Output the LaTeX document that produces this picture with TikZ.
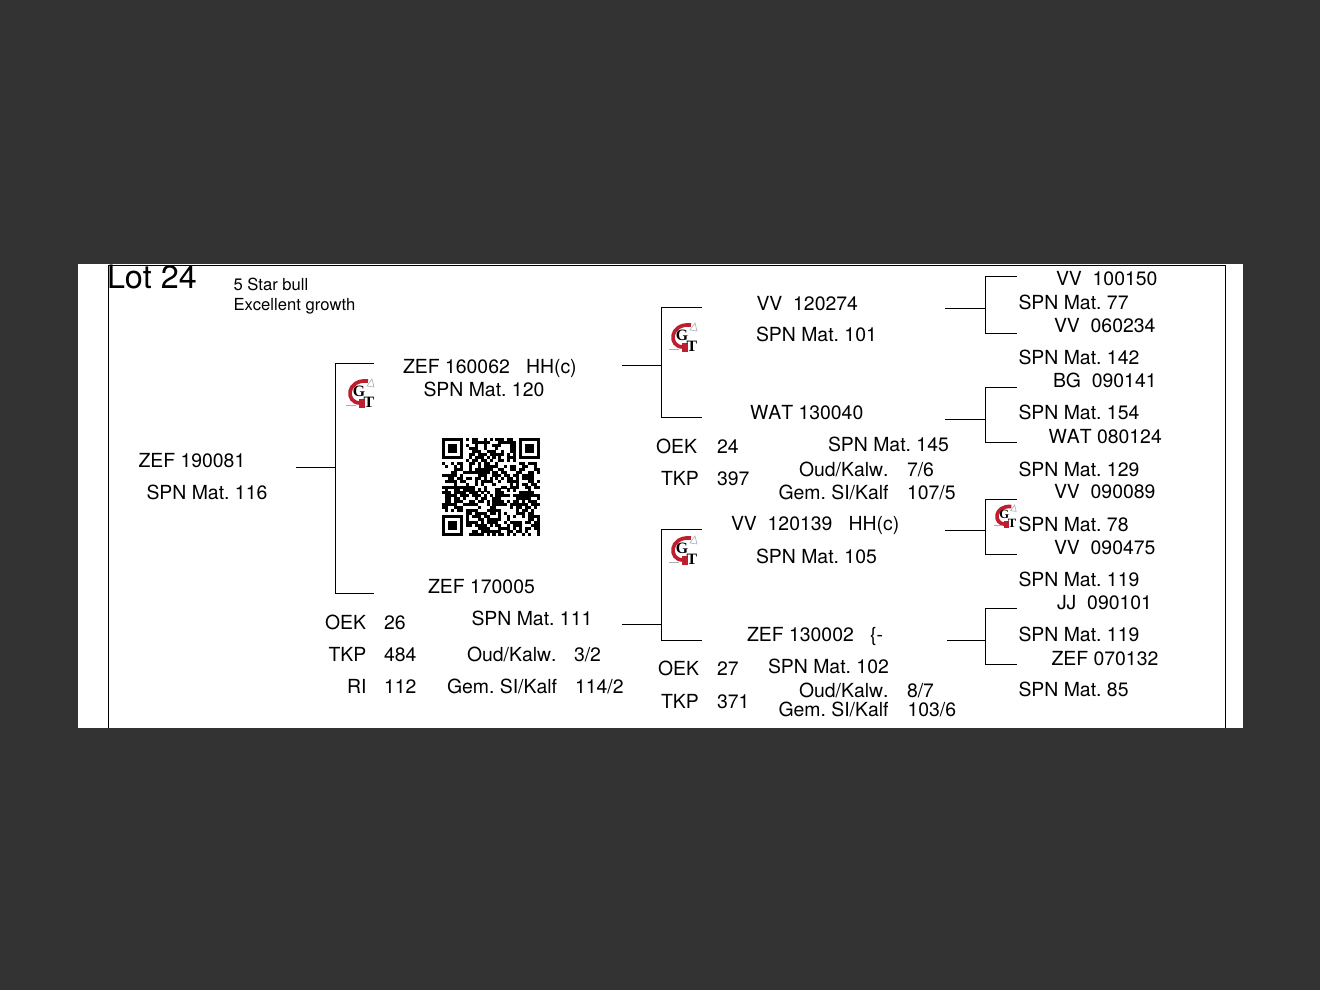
\documentclass[tikz,border=0pt]{standalone}
\usepackage{fontspec}
\setmainfont[Kerning=Off]{TeX Gyre Heros}
\newfontfamily\logofont{Liberation Serif}
\usepackage{xcolor}
\definecolor{backdrop}{RGB}{51, 51, 51}
\definecolor{logored}{RGB}{190, 30, 45}
\definecolor{logogrey}{RGB}{170, 175, 180}
\frenchspacing
\tikzset{
  lbl/.style={anchor=base west,inner sep=0pt,outer sep=0pt,font=\fontsize{11.05}{13}\selectfont},
  note/.style={lbl,font=\fontsize{9.46}{11}\selectfont},
  link/.style={black,line width=0.55pt},
}
\newcommand{\gtlogo}[4]{%
  \begin{scope}[shift={(#2,#3)},scale=#4,transform shape]
    \draw[logored,line width=2.1pt] (8,-13) .. controls (-14,-15) and (-15,9) .. (0,9);
    \fill[logored] (-1,5) rectangle (5,14);
    \draw[logogrey,line width=0.35pt] (7,-8) -- (12,-15) -- (14,-7) -- cycle;
    \draw[logogrey,line width=0.35pt] (-14,11) -- (-4,11);
    \node[inner sep=0pt,font=\logofont\bfseries\fontsize{9}{10}\selectfont] (#1g) at (-1,-3) {G};
    \node[inner sep=0pt,font=\logofont\bfseries\fontsize{9}{10}\selectfont] (#1t) at (9,8) {T};
  \end{scope}}
\begin{document}
\begin{tikzpicture}[x=0.02cm,y=-0.02cm]
\useasboundingbox (0,0) rectangle (1320,990);
\fill[backdrop] (0,0) rectangle (1320,990);
\fill[white] (78,264) rectangle (1243,728);
\draw[link] (108,728) -- (108,265) -- (1225,265) -- (1225,728);
% heading
\node[lbl,font=\fontsize{18.4}{20}\selectfont] (lot) at (107,289) {Lot 24};
\node[note] (stars) at (233.5,291) {5 Star bull};
\node[note] (growth) at (233.5,311) {Excellent growth};
% brackets: stub x, stub y, spine x, top y, bottom y, end x
\foreach \name/\sx/\sy/\jx/\ty/\by/\ex in {
  main/296/467/335/363/593/374,
  upper/622/365/661/307/417/702,
  lower/622/624/661/529/640/702,
  fa/945/308/985/276/333/1017,
  fb/945/419/985/387/442/1017,
  fc/945/530/985/499/554/1017,
  fd/947/640/985/608/664/1017} {
  \coordinate (\name-stub) at (\sx,\sy);
  \coordinate (\name-join) at (\jx,\sy);
  \coordinate (\name-top) at (\jx,\ty);
  \coordinate (\name-bot) at (\jx,\by);
  \coordinate (\name-tend) at (\ex,\ty);
  \coordinate (\name-bend) at (\ex,\by);
  \draw[link] (\name-tend) -- (\name-top) -- (\name-bot) -- (\name-bend);
  \draw[link] (\name-stub) -- (\name-join);
}
% animal
\node[lbl] (animal) at (138.5,467) {ZEF 190081};
\node[lbl] (animalmat) at (146.5,499) {SPN Mat. 116};
% parents
\node[lbl] (sire) at (403,373) {ZEF 160062\ \ \ HH(c)};
\node[lbl] (siremat) at (423.5,397) {SPN Mat. 120};
\node[lbl] (dam) at (428,593) {ZEF 170005};
\node[lbl] (oeka) at (325,629) {OEK};
\node[lbl] (oekav) at (384,629) {26};
\node[lbl] (tkpa) at (328.5,661) {TKP};
\node[lbl] (tkpav) at (384,661) {484};
\node[lbl] (ria) at (347,693) {RI};
\node[lbl] (riav) at (384,693) {112};
\node[lbl] (dammat) at (471.5,625) {SPN Mat. 111};
\node[lbl] (ouda) at (467,661) {Oud/Kalw.};
\node[lbl] (oudav) at (574,661) {3/2};
\node[lbl] (gema) at (447,693) {Gem. SI/Kalf};
\node[lbl] (gemav) at (575,693) {114/2};
% grandparents, upper
\node[lbl] (gs) at (756.5,311) {VV\ \ 120274};
\node[lbl] (gsmat) at (756,341) {SPN Mat. 101};
\node[lbl] (gd) at (750,419) {WAT 130040};
\node[lbl] (oekb) at (656,453) {OEK};
\node[lbl] (oekbv) at (717,453) {24};
\node[lbl] (tkpb) at (661,485) {TKP};
\node[lbl] (tkpbv) at (717,485) {397};
\node[lbl] (gdmat) at (828,451) {SPN Mat. 145};
\node[lbl] (oudb) at (799,476) {Oud/Kalw.};
\node[lbl] (oudbv) at (907,476) {7/6};
\node[lbl] (gemb) at (778.5,499) {Gem. SI/Kalf};
\node[lbl] (gembv) at (907,499) {107/5};
% grandparents, lower
\node[lbl] (hs) at (731,530) {VV\ \ 120139\ \ \ HH(c)};
\node[lbl] (hsmat) at (756,563) {SPN Mat. 105};
\node[lbl] (hd) at (747,641) {ZEF 130002\ \ \ \{-};
\node[lbl] (oekc) at (658,675) {OEK};
\node[lbl] (oekcv) at (717,675) {27};
\node[lbl] (tkpc) at (661,708) {TKP};
\node[lbl] (tkpcv) at (717,708) {371};
\node[lbl] (hdmat) at (768,673) {SPN Mat. 102};
\node[lbl] (oudc) at (799,697) {Oud/Kalw.};
\node[lbl] (oudcv) at (907,697) {8/7};
\node[lbl] (gemc) at (778.5,716) {Gem. SI/Kalf};
\node[lbl] (gemcv) at (907.5,716) {103/6};
% great-grandparents
\node[lbl] (ga) at (1056,285) {VV\ \ 100150};
\node[lbl] (gamat) at (1018.5,310) {SPN Mat. 77};
\node[lbl] (gb) at (1054,333) {VV\ \ 060234};
\node[lbl] (gbmat) at (1018.5,364) {SPN Mat. 142};
\node[lbl] (gc) at (1053,387) {BG\ \ 090141};
\node[lbl] (gcmat) at (1018.5,419) {SPN Mat. 154};
\node[lbl] (ge) at (1048.5,443) {WAT 080124};
\node[lbl] (gemat) at (1018.5,476) {SPN Mat. 129};
\node[lbl] (gf) at (1054,498) {VV\ \ 090089};
\node[lbl] (gfmat) at (1018.5,531) {SPN Mat. 78};
\node[lbl] (gg) at (1054,554) {VV\ \ 090475};
\node[lbl] (ggmat) at (1018.5,586) {SPN Mat. 119};
\node[lbl] (gh) at (1057,609) {JJ\ \ 090101};
\node[lbl] (ghmat) at (1018.5,641) {SPN Mat. 119};
\node[lbl] (gi) at (1051.5,665) {ZEF 070132};
\node[lbl] (gimat) at (1018.5,696) {SPN Mat. 85};
% logos
\gtlogo{la}{360}{394}{1}
\gtlogo{lb}{683}{338}{1}
\gtlogo{lc}{683}{551}{1}
\gtlogo{ld}{1005}{517}{0.8}
% qr code
\begin{scope}[shift={(442,438)},x=0.0594cm,y=-0.0594cm]
\pgfmathsetseed{2417}
\foreach \row in {0,...,32} {
  \foreach \col in {0,...,32} {
    \pgfmathrandominteger{\bit}{0}{99}
    \ifnum\bit<56
      \fill[black] (\col,\row) rectangle ++(1.02,1.02);
    \fi
  }
}
\foreach \fx/\fy in {0/0,26/0,0/26} {
  \fill[white] (\fx-1,\fy-1) rectangle ++(9,9);
  \fill[black] (\fx,\fy) rectangle ++(7,7);
  \fill[white] (\fx+1,\fy+1) rectangle ++(5,5);
  \fill[black] (\fx+2,\fy+2) rectangle ++(3,3);
}
\fill[white] (-1.5,-1.5) rectangle (0,34.5);
\fill[white] (-1.5,-1.5) rectangle (34.5,0);
\fill[white] (33,-1.5) rectangle (34.5,34.5);
\fill[white] (-1.5,33) rectangle (34.5,34.5);
\end{scope}
\end{tikzpicture}
\end{document}
